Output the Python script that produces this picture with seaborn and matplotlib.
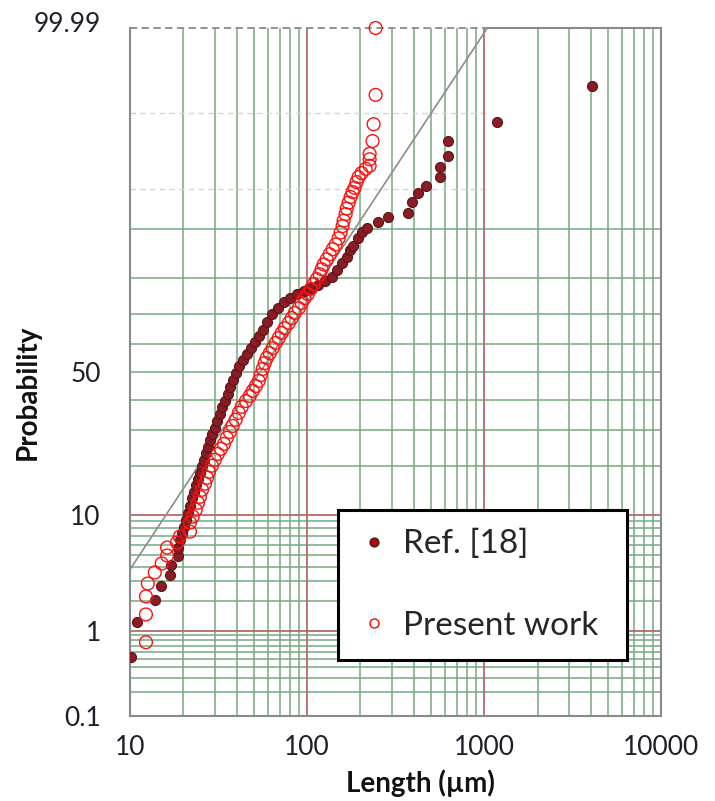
import math
import numpy as np
import pandas as pd
import matplotlib
matplotlib.use("Agg")
import matplotlib.pyplot as plt
from matplotlib.lines import Line2D
from matplotlib.patches import Rectangle
from matplotlib.ticker import FixedLocator, NullLocator
from matplotlib.transforms import ScaledTranslation
import seaborn as sns

# ---------------- data ----------------
ref_length = [10.1, 10.9, 13.8, 15.0, 16.8, 17.0, 18.6, 18.6, 19.1, 19.6,
              20.1, 20.7, 21.2, 21.8, 22.3, 22.9, 23.5, 24.2, 24.8, 25.5,
              26.1, 26.8, 27.5, 28.2, 29.0, 30.1, 30.9, 32.1, 33.0, 34.3,
              35.6, 36.6, 38.0, 39.5, 41.1, 43.3, 45.6, 48.1, 50.6, 53.3,
              56.1, 59.1, 63.1, 68.2, 73.8, 79.6, 87.3, 95.5, 104.7, 114.6,
              125.6, 137.5, 146.6, 156.4, 167.1, 173.5, 180.4, 192.6, 202.8, 216.4,
              249.5, 284.2, 368.5, 393, 424.6, 471, 564.9, 564.9, 627, 627,
              1183, 4055]
ref_prob = [0.52, 1.25, 2.01, 2.70, 3.38, 4.11, 4.96, 5.74, 6.61, 7.45,
            8.24, 9.24, 10.3, 11.5, 12.8, 14.1, 15.4, 16.9, 18.3, 20.0,
            21.5, 23.4, 25.1, 27.1, 28.9, 30.8, 33.0, 35.3, 37.7, 39.7,
            42.2, 44.7, 47.1, 49.6, 52.1, 54.3, 56.4, 58.5, 60.6, 62.7,
            64.7, 67.3, 69.8, 71.7, 73.5, 74.6, 75.8, 76.6, 77.4, 78.2,
            79.3, 80.3, 82.0, 83.6, 84.9, 86.3, 87.2, 88.5, 89.5, 90.2,
            91.1, 91.8, 92.4, 93.7, 94.6, 95.3, 96.0, 96.7, 97.4, 98.1,
            98.77, 99.49]

present_length = [12.3, 12.3, 12.3, 12.6, 13.8, 15.1, 16.2, 16.2, 18.4, 19.1,
                  21.8, 21.8, 22.6, 23.5, 24.2, 24.8, 25.5, 26.5, 27.2, 27.9,
                  29.0, 30.1, 31.3, 32.6, 33.9, 35.2, 36.6, 38.0, 39.5, 41.1,
                  42.7, 45.1, 47.4, 49.3, 51.3, 53.3, 54.7, 56.1, 57.6, 59.1,
                  61.5, 63.9, 66.5, 69.1, 71.8, 74.7, 78.7, 81.8, 85.1, 89.6,
                  93.1, 96.8, 100.7, 104.7, 108.9, 113.2, 117.6, 120.7, 123.9, 128.8,
                  133.9, 139.3, 144.8, 150.4, 154.5, 158.5, 160.6, 164.9, 167.1, 171.4,
                  175.9, 180.4, 185.2, 190.0, 194.9, 202.8, 213.8, 225.1, 225.1, 225.1,
                  233.9, 237.1, 243.4, 243.4]
present_prob = [0.76, 1.47, 2.19, 2.87, 3.59, 4.27, 4.96, 5.74, 6.28, 6.97,
                7.58, 8.80, 9.70, 10.8, 12.0, 13.1, 14.5, 15.8, 17.1, 18.5,
                20.0, 21.5, 23.1, 24.5, 25.9, 27.7, 29.5, 31.4, 33.4, 35.7,
                37.7, 39.7, 41.5, 43.3, 45.0, 46.8, 48.9, 51.1, 53.2, 55.0,
                56.7, 58.5, 60.3, 62.0, 63.7, 65.3, 67.0, 68.6, 70.2, 71.7,
                73.2, 74.6, 75.8, 77.2, 78.5, 79.8, 81.0, 82.2, 83.3, 84.4,
                85.5, 86.5, 87.4, 88.5, 89.5, 90.5, 91.3, 92.2, 92.9, 93.6,
                94.2, 94.7, 95.1, 95.6, 96.0, 96.3, 96.6, 96.8, 97.2, 97.5,
                98.1, 98.7, 99.36, 99.9]

fit_length = [10, 1040]
fit_prob = [3.8, 99.9]

x_ticks = [10, 100, 1000, 10000]
x_tick_labels = ["10", "100", "1000", "10000"]
y_ticks = [0.1, 1, 10, 50, 99.9]
y_tick_labels = ["0.1", "1", "10", "50", "99.99"]

series_names = ["Ref. [18]", "Present work"]

# ---------------- probability scale helpers ----------------
_A = [-3.969683028665376e+01, 2.209460984245205e+02, -2.759285104469687e+02,
      1.383577518672690e+02, -3.066479806614716e+01, 2.506628277459239e+00]
_B = [-5.447609879822406e+01, 1.615858368580409e+02, -1.556989798598866e+02,
      6.680131188771972e+01, -1.328068155288572e+01]
_C = [-7.784894002430293e-03, -3.223964580411365e-01, -2.400758277161838e+00,
      -2.549671492935214e+00, 4.374664141464968e+00, 2.938163982698783e+00]
_D = [7.784695709041462e-03, 3.224671290700398e-01, 2.445134137142996e+00,
      3.754408661907416e+00]


def _probit_scalar(p):
    if not np.isfinite(p):
        return np.nan
    p = min(max(p, 1e-12), 1 - 1e-12)
    plow = 0.02425
    if p < plow:
        q = math.sqrt(-2 * math.log(p))
        return (((((_C[0]*q+_C[1])*q+_C[2])*q+_C[3])*q+_C[4])*q+_C[5]) / \
               ((((_D[0]*q+_D[1])*q+_D[2])*q+_D[3])*q+1)
    if p > 1 - plow:
        q = math.sqrt(-2 * math.log(1 - p))
        return -(((((_C[0]*q+_C[1])*q+_C[2])*q+_C[3])*q+_C[4])*q+_C[5]) / \
                ((((_D[0]*q+_D[1])*q+_D[2])*q+_D[3])*q+1)
    q = p - 0.5
    r = q * q
    return (((((_A[0]*r+_A[1])*r+_A[2])*r+_A[3])*r+_A[4])*r+_A[5])*q / \
           (((((_B[0]*r+_B[1])*r+_B[2])*r+_B[3])*r+_B[4])*r+1)


_fwd = np.vectorize(lambda v: _probit_scalar(v / 100.0), otypes=[float])
_inv = np.vectorize(lambda v: 50.0 * (1.0 + math.erf(v / math.sqrt(2.0))) if np.isfinite(v) else np.nan,
                    otypes=[float])


def prob_forward(pct):
    return _fwd(np.asarray(pct, dtype=float))


def prob_inverse(z):
    return _inv(np.asarray(z, dtype=float))


# ---------------- figure ----------------
sns.set_style("white")
plt.rcParams["font.family"] = ["Lato", "DejaVu Sans"]

W, H = 715, 801
fig = plt.figure(figsize=(W / 100, H / 100), dpi=100)
ax = fig.add_axes([130 / W, 85 / H, 531.5 / W, 688 / H])

ax.set_xscale("log")
ax.set_yscale("function", functions=(prob_forward, prob_inverse))
ax.set_xlim(10, 10000)
ax.set_ylim(0.1, 99.9)

green = "#74a981"
red = "#b86a6e"

# vertical grid
for dec in [10, 100, 1000]:
    for m in range(2, 10):
        ax.axvline(dec * m, color=green, lw=1.1, zorder=1)
for v in [100, 1000]:
    ax.axvline(v, color=red, lw=1.3, zorder=1.2)

# horizontal grid
h_lines = [0.2, 0.3, 0.4, 0.5, 0.6, 0.7, 0.8, 0.9,
           2, 3, 4, 5, 6, 7, 8, 9,
           20, 30, 40, 50, 60, 70, 80, 90]
for h in h_lines:
    ax.axhline(h, color=green, lw=1.1, zorder=1)
for h in [1, 10]:
    ax.axhline(h, color=red, lw=1.3, zorder=1.2)
for h in [95, 99]:
    ax.axhline(h, xmin=0, xmax=0.674, color="#d6d6d6", lw=1.0, ls=(0, (4, 3)), zorder=1)

# frame
for side in ["left", "right", "bottom"]:
    ax.spines[side].set_color("#8a8a8a")
    ax.spines[side].set_linewidth(1.5)
ax.spines["top"].set_visible(False)
ax.axhline(99.9, xmin=0, xmax=0.674, color="#8a8a8a", lw=1.3, ls=(0, (4, 2.5)), zorder=1.5, clip_on=False)
ax.axhline(99.9, xmin=0.674, xmax=1, color="#8a8a8a", lw=1.5, zorder=1.5, clip_on=False)

# fitted line
ax.plot(fit_length, fit_prob, color="#8c8c8c", lw=1.2, zorder=2)

# data
ref_df = pd.DataFrame({"Length": ref_length, "Probability": ref_prob})
present_df = pd.DataFrame({"Length": present_length, "Probability": present_prob})

sns.scatterplot(data=ref_df, x="Length", y="Probability", ax=ax, marker="o",
                s=52, color="#8a1c25", edgecolor="#5a1418", linewidth=0.8,
                zorder=3, legend=False)
sns.scatterplot(data=present_df, x="Length", y="Probability", ax=ax, marker="o",
                s=85, facecolors="none", edgecolor="#ff1010", linewidth=1.0,
                zorder=4, legend=False, clip_on=False)

# ticks
ax.xaxis.set_major_locator(FixedLocator(x_ticks))
ax.xaxis.set_minor_locator(NullLocator())
ax.set_xticklabels(x_tick_labels)
ax.yaxis.set_major_locator(FixedLocator(y_ticks))
ax.yaxis.set_minor_locator(NullLocator())
ax.set_yticklabels(y_tick_labels)
ax.tick_params(axis="both", length=0, labelsize=19, labelcolor="#1f1f2a")
ax.tick_params(axis="x", pad=14)
ax.tick_params(axis="y", pad=21)
ax.set_xlabel("")
ax.set_ylabel("")
top_lab = ax.yaxis.get_major_ticks()[-1].label1
top_lab.set_transform(top_lab.get_transform() + ScaledTranslation(0, 6 / 100, fig.dpi_scale_trans))

fig.text(28 / W, 1 - 392 / H, "Probability", rotation=90, ha="center", va="center",
         fontsize=20, fontweight="bold", color="#111111")
fig.text(420 / W, 1 - 783 / H, "Length (\u00b5m)", ha="center", va="center",
         fontsize=20, fontweight="bold", color="#111111")

# legend box
box = Rectangle((338 / W, 1 - 660 / H), 289 / W, 150 / H, transform=fig.transFigure,
                facecolor="white", edgecolor="black", linewidth=2.2, zorder=9, clip_on=False)
ax.add_patch(box)

handles = [
    Line2D([], [], ls="none", marker="o", markersize=6.5, markerfacecolor="#c00000",
           markeredgecolor="#222222", markeredgewidth=0.8),
    Line2D([], [], ls="none", marker="o", markersize=6.5, markerfacecolor="none",
           markeredgecolor="#ff0000", markeredgewidth=1.0),
]
leg = ax.legend(handles, series_names, loc="upper left",
                bbox_to_anchor=(338 / W, 1 - 510 / H), bbox_transform=fig.transFigure,
                fontsize=24, frameon=False, borderpad=0.57,
                handlelength=1.0, handletextpad=0.38, labelspacing=1.55,
                borderaxespad=0)
leg.set_zorder(10)

fig.savefig("out.png", dpi=100)
